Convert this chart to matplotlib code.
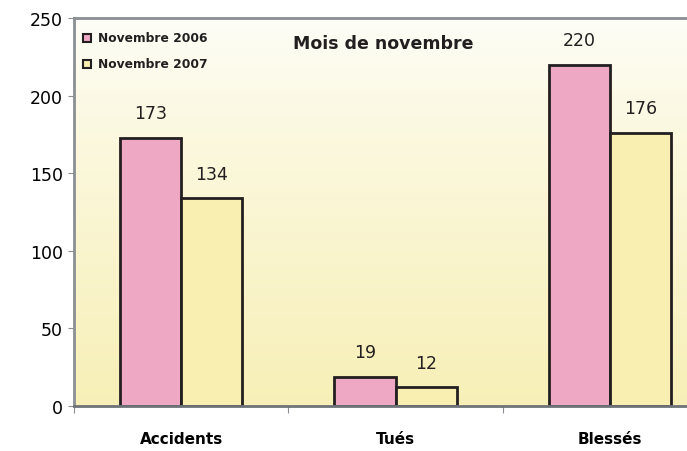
import numpy as np
import matplotlib.pyplot as plt
from matplotlib.patches import Rectangle

categories = ['Accidents', 'Tués', 'Blessés']
nov_2006 = [173, 19, 220]
nov_2007 = [134, 12, 176]
series_names = ['Novembre 2006', 'Novembre 2007']
yticks = [0, 50, 100, 150, 200, 250]

pink = '#eea8c4'
yellow = '#f8efb0'
edge = '#231f20'
grey = '#8a8f94'

fig = plt.figure(figsize=(6.87, 4.52), dpi=100)
W, H = 687, 452
# plot area runs past the right edge of the picture (cropped chart)
ax = fig.add_axes([74 / W, 45 / H, 643 / W, 388 / H])

# vertical gradient background, near white at the top, yellow at the bottom
grad = np.linspace(0, 1, 256).reshape(-1, 1)
top = np.array([0.995, 0.995, 0.975])
bot = np.array([0.97, 0.94, 0.72])
img = top + (bot - top) * grad[..., None] ** 0.8
ax.imshow(img, extent=[-0.5, 2.5, 0, 250], origin='upper', aspect='auto', zorder=0)

x = np.arange(len(categories))
w = 0.285
b1 = ax.bar(x - w / 2, nov_2006, w, color=pink, edgecolor=edge, linewidth=2, zorder=2)
b2 = ax.bar(x + w / 2, nov_2007, w, color=yellow, edgecolor=edge, linewidth=2, zorder=2)

for bars, vals in [(b1, nov_2006), (b2, nov_2007)]:
    for r, v in zip(bars, vals):
        ax.text(r.get_x() + r.get_width() / 2, v + 10, str(v), ha='center', va='bottom',
                fontsize=12.5, color='#231f20')

ax.set_xlim(-0.5, 2.5)
ax.set_ylim(0, 250)
ax.set_yticks(yticks)
ax.tick_params(axis='y', labelsize=12.5, length=4, color=grey, pad=4)
ax.set_xticks([-0.5, 0.5, 1.5])
ax.set_xticklabels([])
ax.tick_params(axis='x', which='major', length=5, color=grey)
ax.set_xticks(x, minor=True)
ax.set_xticklabels(categories, minor=True, fontsize=11, fontweight='bold')
ax.tick_params(axis='x', which='minor', length=0, pad=18)

for s in ['left', 'top']:
    ax.spines[s].set_color(grey)
    ax.spines[s].set_linewidth(2)
ax.spines['bottom'].set_color('#6e7378')
ax.spines['bottom'].set_linewidth(2)
ax.spines['right'].set_visible(False)

# legend
for i, (name, col) in enumerate(zip(series_names, [pink, yellow])):
    yy = 1 - (39 + 26 * i) / H
    fig.patches.append(Rectangle((83 / W, yy - 4 / H), 8 / W, 8 / H, facecolor=col,
                                 edgecolor=edge, linewidth=1.5, transform=fig.transFigure))
    fig.text(98 / W, yy, name, fontsize=8.8, fontweight='bold', va='center', ha='left',
             color='#231f20')

fig.text(383 / W, 1 - 44 / H, 'Mois de novembre', fontsize=12.5, fontweight='bold',
         ha='center', va='center', color='#231f20')

fig.savefig('out.png', dpi=100)
